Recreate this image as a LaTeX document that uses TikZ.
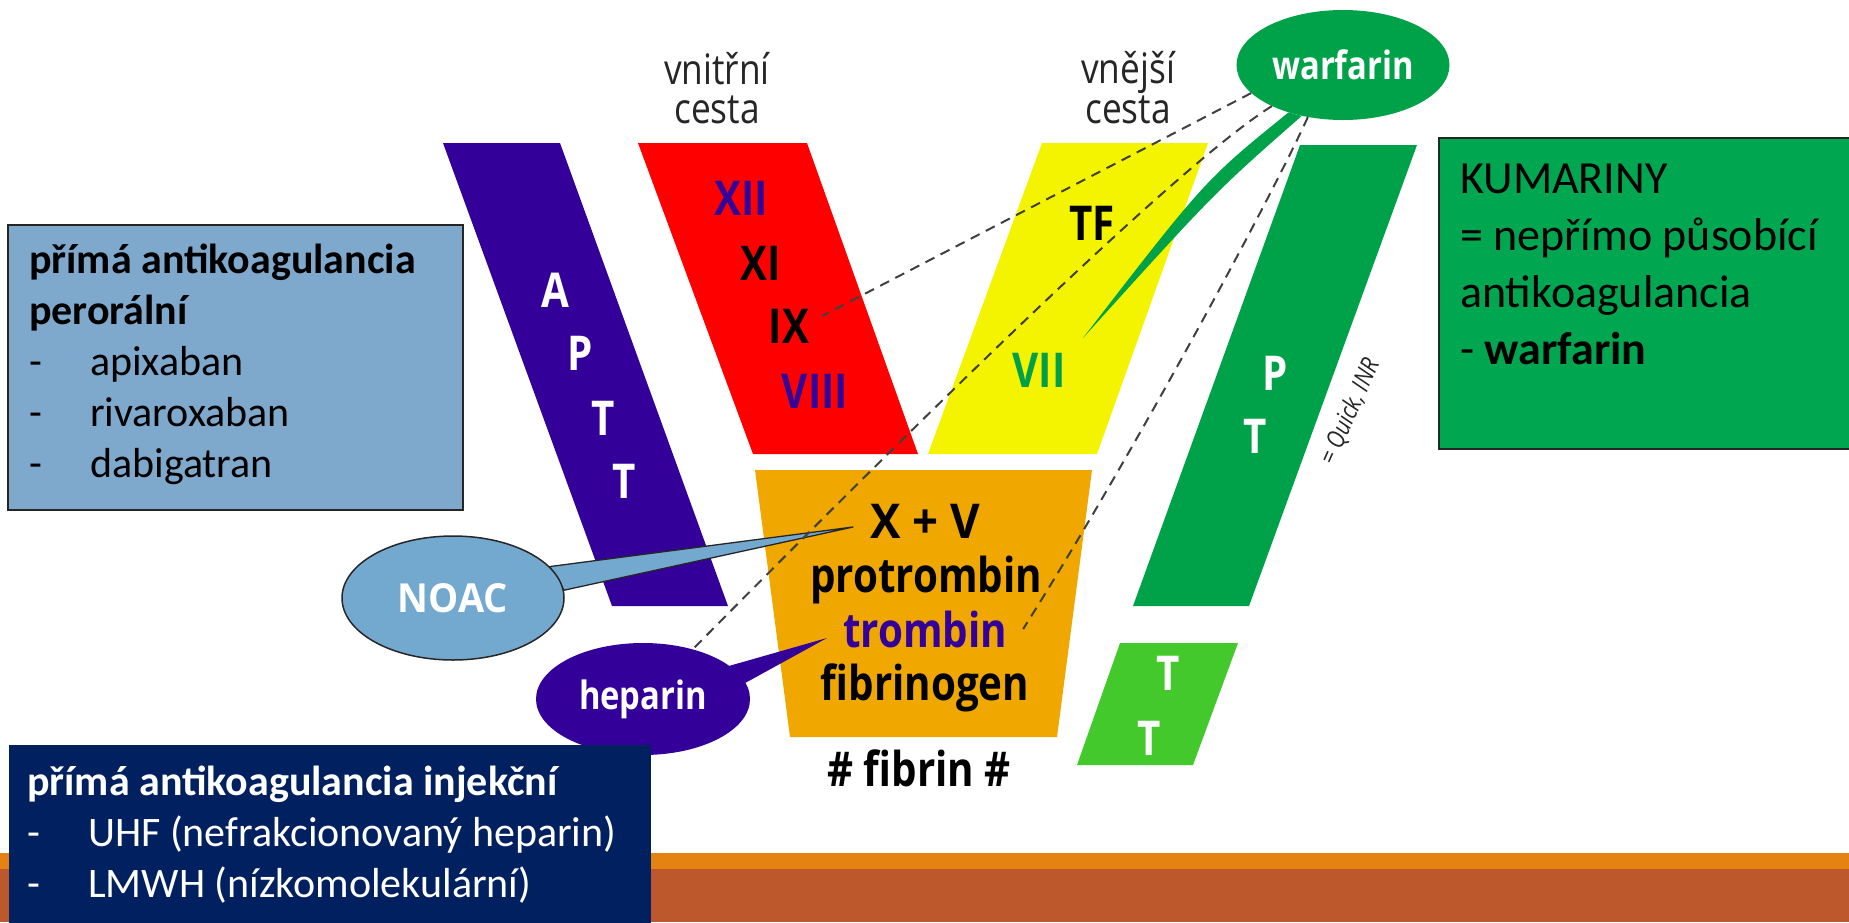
\documentclass[tikz,border=0pt]{standalone}
\usepackage{fontspec}
\setmainfont{Carlito}
\newfontfamily\cb[FakeStretch=0.84]{Open Sans}
\newfontfamily\cbw[FakeStretch=0.95]{Open Sans}
\usetikzlibrary{shapes.geometric}
\definecolor{apttc}{HTML}{330099}
\definecolor{redc}{HTML}{FF0000}
\definecolor{yelc}{HTML}{F4F400}
\definecolor{orc}{HTML}{F0A800}
\definecolor{ptc}{HTML}{00A249}
\definecolor{ttc}{HTML}{44C92C}
\definecolor{facc}{HTML}{00A04A}
\definecolor{boxgreen}{HTML}{00A650}
\definecolor{boxblue}{HTML}{7FA9CC}
\definecolor{noacc}{HTML}{74A9CF}
\definecolor{navyc}{HTML}{002060}
\definecolor{stripec}{HTML}{E48312}
\definecolor{rustc}{HTML}{BD582C}
\pgfdeclarelayer{back}
\pgfdeclarelayer{mid}
\pgfdeclarelayer{front}
\pgfsetlayers{back,mid,main,front}
\begin{document}
\begin{tikzpicture}[x=1pt,y=-1pt,
  lbl/.style={inner sep=0pt, anchor=base, font=\cb\bfseries\fontsize{48}{50}\selectfont},
  pathlabel/.style={inner sep=0pt, anchor=base, font=\cb\fontsize{42}{44}\selectfont, text=black!85},
  bubble/.style={ellipse, inner sep=0pt, text=white, font=\cb\bfseries\fontsize{39}{40}\selectfont},
  boxtext/.style={inner sep=0pt, anchor=base west, font=\fontsize{42}{50}\selectfont},
  kumtext/.style={inner sep=0pt, anchor=base west, font=\fontsize{46}{56}\selectfont},
  effect/.style={draw=black!75, line width=2pt, dash pattern=on 10pt off 7pt},
]
\useasboundingbox (0,0) rectangle (1849,922);

\begin{pgfonlayer}{back}
  \fill[white] (0,0) rectangle (1849,922);
  % bottom decoration
  \fill[stripec] (0,853) rectangle (1849,869);
  \fill[rustc] (0,869) rectangle (1849,922);
  % bands
  \fill[apttc] (443,143) -- (560,143) -- (728,606) -- (612,606) -- cycle;
  \fill[redc] (638,143) -- (807,143) -- (918,454) -- (753,454) -- cycle;
  \fill[yelc] (1042,143) -- (1208,143) -- (1097,454) -- (928,454) -- cycle;
  \fill[ptc] (1300,145) -- (1417,145) -- (1249,606) -- (1133,606) -- cycle;
  \fill[ttc] (1120,643) -- (1238,643) -- (1193,765) -- (1077,765) -- cycle;
  \fill[orc] (755,470) -- (1092,470) -- (1057,737) -- (790,737) -- cycle;
  % side boxes
  \filldraw[fill=boxblue, draw=black!85, line width=1.5pt] (8,225) rectangle (463,510);
  \filldraw[fill=boxgreen, draw=black!85, line width=1.5pt] (1439,138) rectangle (1860,449);
\end{pgfonlayer}

% path labels
\node[pathlabel] (vn1) at (717,84) {vnitřní};
\node[pathlabel] (vn2) at (717,123) {cesta};
\node[pathlabel] (ve1) at (1128,83) {vnější};
\node[pathlabel] (ve2) at (1128,123) {cesta};

% band letters
\node[lbl, text=white] (a1) at (555,307) {A};
\node[lbl, text=white] (a2) at (580,370) {P};
\node[lbl, text=white] (a3) at (603,435) {T};
\node[lbl, text=white] (a4) at (624,498) {T};
\node[lbl, text=apttc] (f12) at (741,215) {XII};
\node[lbl] (f11) at (761,280) {XI};
\node[lbl] (f9) at (789,343) {IX};
\node[lbl, text=apttc] (f8) at (815,408) {VIII};
\node[lbl] (tf) at (1092,240) {TF};
\node[lbl, text=facc] (f7) at (1039,387) {VII};
\node[lbl, text=white] (p1) at (1275,390) {P};
\node[lbl, text=white] (p2) at (1255,453) {T};
\node[lbl, text=white] (t1) at (1168,690) {T};
\node[lbl, text=white] (t2) at (1149,755) {T};
\node[lbl, font=\cbw\bfseries\fontsize{48}{50}\selectfont] (xv) at (925,538) {X + V};
\node[lbl] (protr) at (926,592) {protrombin};
\node[lbl, text=apttc] (tromb) at (925,647) {trombin};
\node[lbl] (fibrg) at (925,700) {fibrinogen};
\node[lbl] (fibrin) at (919,786) {\# fibrin \#};
\node[inner sep=0pt, rotate=66, text=black!85, font=\cb\itshape\fontsize{25}{27}\selectfont] (quick) at (1350,412) {= Quick, INR};

% bubbles
\node[bubble, fill=ptc, minimum width=213pt, minimum height=110pt] (warf) at (1343,65) {warfarin};
\node[bubble, fill=noacc, draw=black!85, line width=1.5pt, minimum width=222pt, minimum height=124pt, font=\cbw\bfseries\fontsize{40}{40}\selectfont] (noac) at (453,598) {NOAC};
\node[bubble, fill=apttc, minimum width=214pt, minimum height=112pt] (hep) at (643,699) {heparin};

\coordinate (noacTip) at (853,527);
\coordinate (hepTip) at (827,638);
\coordinate (warfTip) at (1083,338);

\begin{pgfonlayer}{mid}
  \fill[ptc] (warf.221) .. controls (1205,180) .. (warfTip) .. controls (1215,192) .. (warf.231) -- cycle;
  \filldraw[fill=noacc, draw=black!85, line width=1.3pt, line join=round] (noac.18) -- (noacTip) -- (noac.4) -- cycle;
  \fill[apttc] (hep.21) -- (hepTip) -- (hep.9) -- cycle;
\end{pgfonlayer}

\begin{pgfonlayer}{front}
  \draw[effect] (warf.197) -- ([shift={(13,-10)}]f9.east);
  \draw[effect] (warf.210) .. controls (1170,170) and (880,460) .. (hep.45);
  \draw[effect] (warf.236) .. controls (1270,200) and (1130,460) .. ([xshift=16pt]tromb.east);
  % injection box
  \fill[navyc] (9,745) rectangle (651,930);
  \node[boxtext, text=white, font=\bfseries\fontsize{42}{50}\selectfont] (inj0) at (27,795) {přímá antikoagulancia injekční};
  \node[boxtext, text=white] (inj1d) at (27,846) {-};
  \node[boxtext, text=white] (inj1) at (88,846) {UHF (nefrakcionovaný heparin)};
  \node[boxtext, text=white] (inj2d) at (27,897) {-};
  \node[boxtext, text=white] (inj2) at (88,897) {LMWH (nízkomolekulární)};
\end{pgfonlayer}

% oral box text
\node[boxtext, font=\bfseries\fontsize{42}{50}\selectfont] (or0) at (29,273) {přímá antikoagulancia};
\node[boxtext, font=\bfseries\fontsize{42}{50}\selectfont] (or1) at (29,324) {perorální};
\node[boxtext] (or2d) at (29,375) {-};
\node[boxtext] (or2) at (90,375) {apixaban};
\node[boxtext] (or3d) at (29,426) {-};
\node[boxtext] (or3) at (90,426) {rivaroxaban};
\node[boxtext] (or4d) at (29,477) {-};
\node[boxtext] (or4) at (90,477) {dabigatran};

% coumarin box text
\node[kumtext] (k0) at (1460,193) {KUMARINY};
\node[kumtext] (k1) at (1460,250) {= nepřímo působící};
\node[kumtext] (k2) at (1460,307) {antikoagulancia};
\node[kumtext] (k3) at (1460,364) {- \textbf{warfarin}};
\end{tikzpicture}
\end{document}
